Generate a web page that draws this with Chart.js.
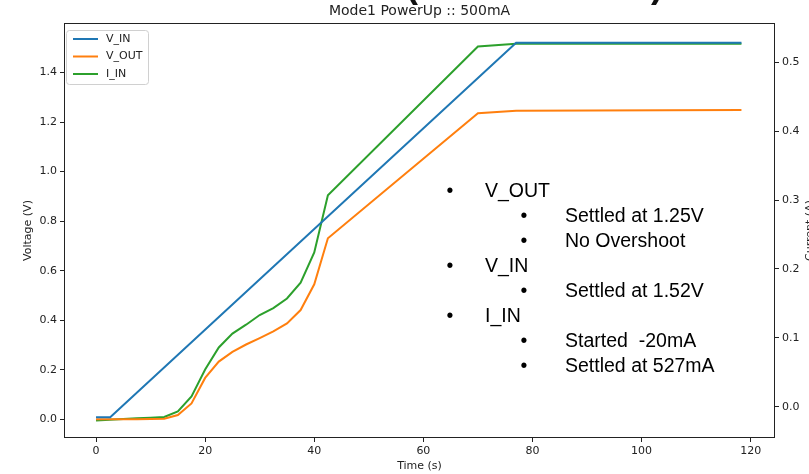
<!DOCTYPE html>
<html>
<head>
<meta charset="utf-8">
<script src="https://cdn.jsdelivr.net/npm/chart.js@4.4.1/dist/chart.umd.min.js"></script>
<style>
    html, body { margin: 0; padding: 0; background: #fff; }
    canvas { display: block; }
</style>
</head>
<body>
<canvas id="chart" width="809" height="474"></canvas>
<script>
// V_IN trace: time (s) / voltage (V)
const vinTime = [0, 2.6, 77.0, 118.3];
const vinVolts = [0.008, 0.008, 1.52, 1.52];

// V_OUT and I_IN share their sample times
const sampleTime = [0, 2.5, 5, 7.5, 10, 12.5, 15, 17.5, 20, 22.5, 25, 27.5, 30, 32.5, 35, 37.5, 40, 42.5, 70, 77, 118.3];
const voutVolts = [0, 0, 0, 0, 0.001, 0.002, 0.017, 0.064, 0.167, 0.233, 0.272, 0.302, 0.328, 0.355, 0.387, 0.441, 0.545, 0.731, 1.236, 1.246, 1.249];
const iinAmps = [-0.020, -0.019, -0.018, -0.017, -0.016, -0.015, -0.007, 0.015, 0.054, 0.086, 0.106, 0.119, 0.133, 0.143, 0.157, 0.180, 0.224, 0.307, 0.523, 0.527, 0.527];

// Tick labels
const timeTicks = [0, 20, 40, 60, 80, 100, 120];
const voltTicks = [0, 0.2, 0.4, 0.6, 0.8, 1.0, 1.2, 1.4];
const ampTicks = [0, 0.1, 0.2, 0.3, 0.4, 0.5];

// Bullet notes: [indent level, text]
const notes = [
    [1, 'V_OUT'],
    [2, 'Settled at 1.25V'],
    [2, 'No Overshoot'],
    [1, 'V_IN'],
    [2, 'Settled at 1.52V'],
    [1, 'I_IN'],
    [2, 'Started  -20mA'],
    [2, 'Settled at 527mA'],
];

const colors = { vin: '#1f77b4', vout: '#ff7f0e', iin: '#2ca02c' };
const mplFont = '"DejaVu Sans", sans-serif';

const toPoints = (xs, ys) => xs.map((x, i) => ({ x, y: ys[i] }));

const datasets = [
    { label: 'V_IN', data: toPoints(vinTime, vinVolts), borderColor: colors.vin, yAxisID: 'yV' },
    { label: 'V_OUT', data: toPoints(sampleTime, voutVolts), borderColor: colors.vout, yAxisID: 'yV' },
    { label: 'I_IN', data: toPoints(sampleTime, iinAmps), borderColor: colors.iin, yAxisID: 'yI' },
].map((d) => ({ ...d, borderWidth: 2, pointRadius: 0, tension: 0, fill: false }));

// Shared look for the matplotlib-style axes
function axis(extra) {
    return {
        type: 'linear',
        border: { display: false },
        grid: { drawOnChartArea: false, drawTicks: true, tickLength: 4, color: '#222', lineWidth: 1 },
        ticks: { color: '#222', font: { family: mplFont, size: 11 }, padding: 3 },
        ...extra,
    };
}

const overlay = {
    id: 'overlay',
    beforeDraw(chart) {
        const c = chart.ctx;
        c.save();
        c.fillStyle = '#fff';
        c.fillRect(0, 0, chart.width, chart.height);
        c.restore();
    },
    afterDraw(chart) {
        const c = chart.ctx;
        const a = chart.chartArea;
        const midX = (a.left + a.right) / 2;
        const midY = (a.top + a.bottom) / 2;
        c.save();

        // slide heading cut off by the top edge
        c.fillStyle = '#111';
        c.textAlign = 'center';
        c.textBaseline = 'alphabetic';
        c.font = 'bold 36px "Liberation Sans", Arial, sans-serif';
        c.fillText('(', 412, -3);
        c.fillText(')', 657, -3);

        // plot frame
        c.strokeStyle = '#222';
        c.lineWidth = 1;
        c.strokeRect(a.left + 0.5, a.top + 0.5, a.right - a.left - 1, a.bottom - a.top - 1);

        // title and axis labels
        c.fillStyle = '#222';
        c.textBaseline = 'middle';
        c.font = '14px ' + mplFont;
        c.fillText('Mode1 PowerUp :: 500mA', midX, 11);
        c.font = '11px ' + mplFont;
        c.fillText('Time (s)', midX, 466);
        c.save();
        c.translate(28, midY);
        c.rotate(-Math.PI / 2);
        c.fillText('Voltage (V)', 0, 0);
        c.restore();
        c.save();
        c.translate(813, midY);
        c.rotate(-Math.PI / 2);
        c.textBaseline = 'alphabetic';
        c.fillText('Current (A)', 0, 0);
        c.restore();

        // legend box
        c.beginPath();
        c.roundRect(66.5, 30.5, 82, 54, 3);
        c.fillStyle = 'rgba(255,255,255,0.8)';
        c.fill();
        c.strokeStyle = '#d0d0d0';
        c.stroke();
        c.textAlign = 'left';
        chart.data.datasets.forEach((ds, i) => {
            const y = 39 + i * 17.5;
            c.strokeStyle = ds.borderColor;
            c.lineWidth = 2;
            c.beginPath();
            c.moveTo(73, y);
            c.lineTo(98, y);
            c.stroke();
            c.fillStyle = '#222';
            c.fillText(ds.label, 106, y);
        });

        // bullet notes
        c.fillStyle = '#000';
        c.font = '19.5px "Liberation Sans", Arial, sans-serif';
        notes.forEach(([level, text], i) => {
            const y = 192 + i * 25;
            const bx = level === 1 ? 450 : 524;
            const tx = level === 1 ? 485 : 565;
            c.textAlign = 'center';
            c.fillText('\u2022', bx, y);
            c.textAlign = 'left';
            c.fillText(text, tx, y);
        });

        c.restore();
    },
};

const chart = new Chart(document.getElementById('chart'), {
    type: 'line',
    data: { datasets },
    options: {
        responsive: false,
        animation: false,
        devicePixelRatio: 1,
        layout: { padding: { top: 23, left: 0, right: 0, bottom: 0 } },
        plugins: { legend: { display: false }, title: { display: false }, tooltip: { enabled: false } },
        scales: {
            x: axis({
                position: 'bottom',
                min: -5.87,
                max: 124.45,
                afterBuildTicks: (s) => { s.ticks = timeTicks.map((value) => ({ value })); },
                afterFit: (s) => { s.height = 36; },
            }),
            yV: axis({
                position: 'left',
                min: -0.0755,
                max: 1.6,
                afterBuildTicks: (s) => { s.ticks = voltTicks.map((value) => ({ value })); },
                afterFit: (s) => { s.width = 64; },
                ticks: { color: '#222', font: { family: mplFont, size: 11 }, padding: 3, callback: (v) => v.toFixed(1) },
            }),
            yI: axis({
                position: 'right',
                min: -0.0455,
                max: 0.557,
                afterBuildTicks: (s) => { s.ticks = ampTicks.map((value) => ({ value })); },
                afterFit: (s) => { s.width = 34; },
                ticks: { color: '#222', font: { family: mplFont, size: 11 }, padding: 3, callback: (v) => v.toFixed(1) },
            }),
        },
    },
    plugins: [overlay],
});
</script>
</body>
</html>
